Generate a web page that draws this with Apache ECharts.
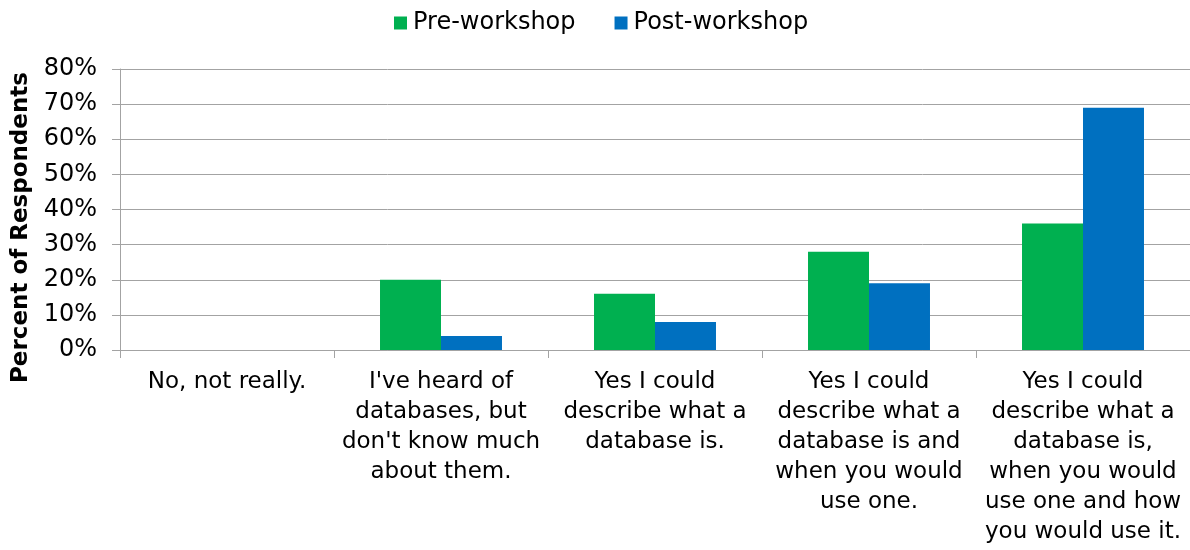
<!DOCTYPE html>
<html>
<head>
<meta charset="utf-8">
<script src="https://cdn.jsdelivr.net/npm/echarts@6/dist/echarts.min.js"></script>
<style>
html,body{margin:0;padding:0;background:#fff;}
#chart{width:1190px;height:550px;}
</style>
</head>
<body>
<div id="chart"></div>
<script>
const categories = [
  "No, not really.",
  "I've heard of\ndatabases, but\ndon't know much\nabout them.",
  "Yes I could\ndescribe what a\ndatabase is.",
  "Yes I could\ndescribe what a\ndatabase is and\nwhen you would\nuse one.",
  "Yes I could\ndescribe what a\ndatabase is,\nwhen you would\nuse one and how\nyou would use it."
];
const preWorkshop = [0, 20, 16, 28, 36];
const postWorkshop = [0, 4, 8, 19, 69];
const seriesNames = ["Pre-workshop", "Post-workshop"];
const yAxisTitle = "Percent of Respondents";

const FONT = "DejaVu Sans";
const chart = echarts.init(document.getElementById('chart'), null, {renderer: 'canvas'});
chart.setOption({
  animation: false,
  backgroundColor: '#ffffff',
  textStyle: {fontFamily: FONT, color: '#000'},
  legend: {
    top: 6,
    left: 389,
    itemWidth: 13,
    itemHeight: 13,
    itemGap: 39,
    icon: 'rect',
    textStyle: {fontFamily: FONT, fontSize: 24, color: '#000', padding: [0, 0, 0, 1]},
    data: seriesNames
  },
  grid: {left: 120, right: 0, top: 69, bottom: 200, containLabel: false},
  xAxis: {
    type: 'category',
    data: categories,
    axisLine: {lineStyle: {color: '#a3a3a3', width: 1}},
    axisTick: {show: true, length: 8, alignWithLabel: false, lineStyle: {color: '#a3a3a3'}},
    axisLabel: {
      interval: 0, margin: 17, fontFamily: FONT, fontSize: 23, color: '#000',
      lineHeight: 30, align: 'center'
    }
  },
  yAxis: {
    type: 'value',
    min: 0, max: 80, interval: 10,
    name: yAxisTitle,
    nameLocation: 'middle',
    nameGap: 86,
    nameTextStyle: {fontFamily: FONT, fontSize: 23, fontWeight: 'bold', color: '#000', padding: [0, 36, 0, 0]},
    axisLine: {show: true, lineStyle: {color: '#a3a3a3', width: 1}},
    axisTick: {show: true, length: 8, lineStyle: {color: '#a3a3a3'}},
    axisLabel: {formatter: '{value}%', margin: 23, fontFamily: FONT, fontSize: 24, color: '#000'},
    splitLine: {lineStyle: {color: '#a3a3a3', width: 1}}
  },
  series: [
    {
      name: seriesNames[0], type: 'bar', data: preWorkshop,
      barGap: '0%', barCategoryGap: '43%',
      itemStyle: {color: '#00B050'}
    },
    {
      name: seriesNames[1], type: 'bar', data: postWorkshop,
      barGap: '0%', barCategoryGap: '43%',
      itemStyle: {color: '#0070C0'}
    }
  ]
});
</script>
</body>
</html>
